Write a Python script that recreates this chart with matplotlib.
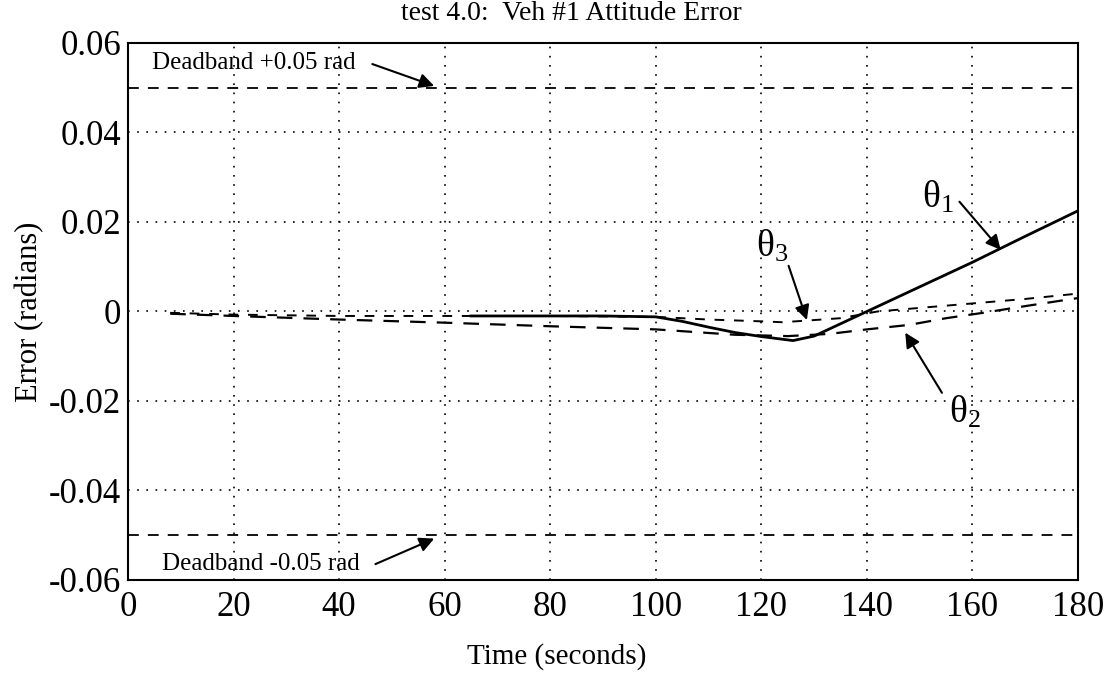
import matplotlib
matplotlib.use("Agg")
import matplotlib.pyplot as plt
import numpy as np

plt.rcParams['font.family'] = ['Liberation Serif', 'DejaVu Serif']
plt.rcParams['mathtext.fontset'] = 'custom'
plt.rcParams['mathtext.rm'] = 'Liberation Serif'
plt.rcParams['mathtext.it'] = 'Liberation Serif:italic'

# ---- data ----
t_theta1 = [65, 70, 80, 90, 100, 105, 110, 115, 120, 126, 130, 140, 150, 160, 170, 180]
theta1 = [-0.001, -0.001, -0.001, -0.001, -0.0012, -0.0022, -0.0035, -0.0047,
          -0.0056, -0.0065, -0.0055, 0.0, 0.0055, 0.011, 0.0168, 0.0225]

t_theta2 = [8, 20, 40, 60, 80, 100, 115, 125, 133, 140, 148, 155, 162, 170, 180]
theta2 = [-0.0005, -0.001, -0.0018, -0.0025, -0.0033, -0.004, -0.0052, -0.0055,
          -0.005, -0.004, -0.003, -0.0015, -0.0003, 0.0012, 0.003]

t_theta3 = [8, 20, 40, 60, 80, 100, 110, 120, 124, 129, 135, 142, 150, 160, 170, 180]
theta3 = [-0.0003, -0.0007, -0.001, -0.001, -0.001, -0.0012, -0.0018, -0.0022,
          -0.0024, -0.002, -0.0015, 0.0, 0.0008, 0.0018, 0.0028, 0.004]

deadband_t = [0, 180]
deadband_hi = [0.05, 0.05]
deadband_lo = [-0.05, -0.05]

x_ticks = [0, 20, 40, 60, 80, 100, 120, 140, 160, 180]
y_ticks = [-0.06, -0.04, -0.02, 0, 0.02, 0.04, 0.06]
y_ticklabels = ['-0.06', '-0.04', '-0.02', '0', '0.02', '0.04', '0.06']

fig = plt.figure(figsize=(11.18, 6.77), dpi=100)
ax = fig.add_axes([0.1145, 0.1433, 0.8497, 0.7932])

ax.plot(deadband_t, deadband_hi, color='black', lw=1.3, linestyle=(0, (6, 5)))
ax.plot(deadband_t, deadband_lo, color='black', lw=1.3, linestyle=(0, (6, 5)))
ax.plot(t_theta2, theta2, color='black', lw=1.6, linestyle=(0, (7, 5)))
ax.plot(t_theta3, theta3, color='black', lw=1.4, linestyle=(0, (5, 5)))
ax.plot(t_theta1, theta1, color='black', lw=2.0, linestyle='-')

ax.set_xlim(0, 180)
ax.set_ylim(-0.06, 0.06)
ax.set_xticks(x_ticks)
ax.set_yticks(y_ticks)
ax.set_yticklabels(y_ticklabels)
ax.tick_params(axis='both', labelsize=25, length=0, colors='black')
ax.tick_params(axis='x', pad=8)
ax.tick_params(axis='y', pad=5)
ax.grid(True, color='black', linestyle=(0, (1, 4.5)), linewidth=1.2)
for s in ax.spines.values():
    s.set_linewidth(1.5)
    s.set_color('black')

fig.text(571 / 1118, 1 - 13 / 677, 'test 4.0:  Veh #1 Attitude Error',
         fontsize=20, ha='center', va='center')
fig.text(557 / 1118, 1 - 657 / 677, 'Time (seconds)',
         fontsize=21, ha='center', va='center')
fig.text(30 / 1118, 1 - 312 / 677, 'Error (radians)', rotation=90,
         fontsize=22, ha='center', va='center')

arrow = dict(arrowstyle='-|>', color='black', lw=1.5, mutation_scale=22)
ax.text(4.5, 0.0555, 'Deadband +0.05 rad', fontsize=18, va='center', ha='left')
ax.annotate('', xy=(58.5, 0.0502), xytext=(45.8, 0.0555), arrowprops=arrow)

ax.text(6.5, -0.0565, 'Deadband -0.05 rad', fontsize=18, va='center', ha='left')
ax.annotate('', xy=(58.5, -0.0505), xytext=(46.4, -0.0567), arrowprops=arrow)

ax.text(153.5, 0.0256, r'$\mathrm{θ}_1$', fontsize=27, ha='center', va='center')
ax.annotate('', xy=(165.7, 0.0133), xytext=(157.2, 0.025), arrowprops=arrow)

ax.text(122, 0.0145, r'$\mathrm{θ}_3$', fontsize=27, ha='center', va='center')
ax.annotate('', xy=(128.8, -0.0025), xytext=(125, 0.0108), arrowprops=arrow)

ax.text(158.5, -0.0225, r'$\mathrm{θ}_2$', fontsize=27, ha='center', va='center')
ax.annotate('', xy=(147, -0.0042), xytext=(154.5, -0.0187), arrowprops=arrow)

fig.savefig('out.png', dpi=100)
